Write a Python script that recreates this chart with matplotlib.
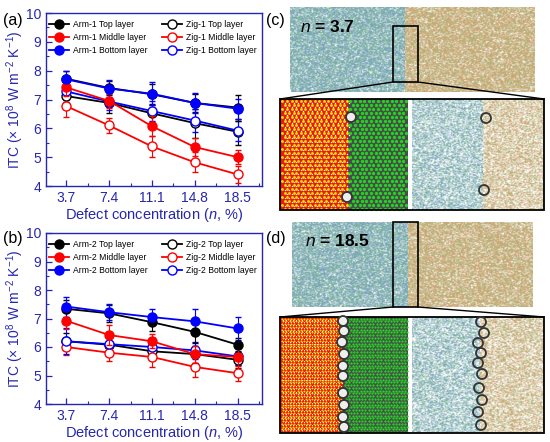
import numpy as np
import matplotlib
matplotlib.use('Agg')
import matplotlib.pyplot as plt
from matplotlib.patches import Rectangle, Circle
from matplotlib.ticker import MultipleLocator

plt.rcParams['font.family'] = ['Liberation Sans', 'DejaVu Sans']
plt.rcParams['mathtext.fontset'] = 'custom'
plt.rcParams['mathtext.rm'] = 'Liberation Sans'
plt.rcParams['mathtext.it'] = 'Liberation Sans:italic'
plt.rcParams['mathtext.bf'] = 'Liberation Sans:bold'

# ---- data: defect concentration (%) vs ITC (x1e8 W m-2 K-1)
conc = [3.7, 7.4, 11.1, 14.8, 18.5]
conc_labels = ['3.7', '7.4', '11.1', '14.8', '18.5']

# panel (a)
arm1_top = [7.72, 7.40, 7.18, 6.88, 6.72]
arm1_top_err = [0.28, 0.25, 0.35, 0.30, 0.45]
arm1_mid = [7.42, 6.95, 6.07, 5.35, 5.00]
arm1_mid_err = [0.30, 0.25, 0.35, 0.30, 0.25]
arm1_bot = [7.70, 7.38, 7.20, 6.88, 6.68]
arm1_bot_err = [0.30, 0.28, 0.40, 0.35, 0.35]
zig1_top = [7.12, 6.88, 6.52, 6.18, 5.88]
zig1_top_err = [0.20, 0.35, 0.30, 0.50, 0.45]
zig1_mid = [6.77, 6.10, 5.37, 4.82, 4.40]
zig1_mid_err = [0.37, 0.27, 0.38, 0.35, 0.30]
zig1_bot = [7.28, 6.93, 6.60, 6.27, 5.92]
zig1_bot_err = [0.30, 0.30, 0.35, 0.40, 0.35]

# panel (b)
arm2_top = [7.34, 7.18, 6.87, 6.53, 6.08]
arm2_top_err = [0.30, 0.30, 0.30, 0.40, 0.25]
arm2_mid = [6.92, 6.42, 6.20, 5.75, 5.65]
arm2_mid_err = [0.30, 0.35, 0.25, 0.30, 0.30]
arm2_bot = [7.42, 7.22, 7.05, 6.90, 6.65]
arm2_bot_err = [0.35, 0.28, 0.28, 0.42, 0.40]
zig2_top = [6.20, 6.08, 5.85, 5.75, 5.55]
zig2_top_err = [0.30, 0.28, 0.30, 0.30, 0.30]
zig2_mid = [6.00, 5.80, 5.65, 5.30, 5.08]
zig2_mid_err = [0.28, 0.28, 0.35, 0.35, 0.28]
zig2_bot = [6.20, 6.10, 6.00, 5.88, 5.67]
zig2_bot_err = [0.45, 0.30, 0.30, 0.30, 0.30]

# ---- right-hand picture layout (pixel coords of the 550x442 canvas)
c_circles_left = [(351, 117), (347, 197)]
c_circles_right = [(486, 118), (484, 190)]
d_circles_left = [(343, 321), (344, 331), (342, 342), (344, 354), (343, 366),
                  (343, 376), (343, 393), (344, 405), (343, 417), (344, 427)]
d_circles_right = [(481, 322), (484, 333), (478, 343), (481, 353), (478, 363),
                   (482, 374), (479, 388), (482, 400), (478, 412), (481, 425)]

AXBLUE = '#2626b0'
W, H = 550, 442

fig = plt.figure(figsize=(5.5, 4.42), dpi=100)

bg = fig.add_axes([0, 0, 1, 1])
bg.set_xlim(0, W)
bg.set_ylim(H, 0)
bg.axis('off')


def hnoise(h, w, k):
    j, i = np.meshgrid(np.arange(w), np.arange(h))
    v = np.sin(i * 12.9898 + j * 78.233 + k * 37.719) * 43758.5453
    return v - np.floor(v)


def texture(h, w, palette, density, k):
    n = hnoise(h, w, k)
    n = (n + np.roll(n, 1, axis=1) + np.roll(n, 2, axis=1)) / 3.0
    c = hnoise(h, w, k + 3)
    pal = np.array(palette)
    idx = np.minimum((c * len(pal)).astype(int), len(pal) - 1)
    col = pal[idx]
    a = (n < density)[..., None] * 0.9
    return np.ones((h, w, 3)) * (1 - a) + col * a


left_pal = [(0.40, 0.55, 0.85), (0.40, 0.72, 0.45), (0.50, 0.65, 0.65)]
right_pal = [(0.88, 0.55, 0.35), (0.55, 0.72, 0.40), (0.78, 0.65, 0.48)]


def noisy(x0, x1, y0, y1, pal, dens, k):
    w = int((x1 - x0) * 2)
    h = int((y1 - y0) * 2)
    bg.imshow(texture(h, w, pal, dens, k), extent=(x0, x1, y1, y0),
              aspect='auto', interpolation='bilinear', zorder=1)


def lattice(x0, x1, y0, y1, a, bgc, dotc, frac, extra=None):
    bg.add_patch(Rectangle((x0, y0), x1 - x0, y1 - y0, fc=bgc, ec='none', zorder=1))
    ys = np.arange(y0 + a / 2, y1, a * np.sqrt(3) / 2)
    px, py = [], []
    for r, yy in enumerate(ys):
        xs = np.arange(x0 + a / 2 + (a / 2) * (r % 2), x1 - a / 4, a)
        px.extend(xs)
        py.extend([yy] * len(xs))
    s = (a * frac * 0.72) ** 2
    bg.scatter(px, py, s=s, c=dotc, lw=0, zorder=2)
    if extra is not None:
        bg.scatter(np.array(px) + a / 2, np.array(py) + a * 0.29, s=s * 0.25,
                   c=extra, lw=0, zorder=2)


def picture(top, split, box, inset, lat_split, noise_split, a, circ_l, circ_r, k):
    tx0, tx1, ty0, ty1 = top
    noisy(tx0, split, ty0, ty1, left_pal, 0.64, k)
    noisy(split, tx1, ty0, ty1, right_pal, 0.64, k + 1)
    bx0, bx1, by0, by1 = box
    bg.add_patch(Rectangle((bx0, by0), bx1 - bx0, by1 - by0, fc='none', ec='black',
                           lw=1.2, zorder=4))
    ix0, ix1, iy0, iy1 = inset
    bg.plot([bx0, ix0], [by1, iy0], color='black', lw=1.0, zorder=4)
    bg.plot([bx1, ix1], [by1, iy0], color='black', lw=1.0, zorder=4)
    lattice(ix0, lat_split, iy0, iy1, a, '#e81a10', '#ffe000', 0.62, extra='#f4f4f4')
    lattice(lat_split, 408, iy0, iy1, a, '#4a4a4a', '#22d422', 0.72)
    noisy(412, noise_split, iy0, iy1, left_pal, 0.52, k + 5)
    noisy(noise_split, ix1, iy0, iy1, right_pal, 0.52, k + 6)
    bg.add_patch(Rectangle((ix0, iy0), ix1 - ix0, iy1 - iy0, fc='none', ec='black',
                           lw=1.3, zorder=4))
    for (cx, cy) in circ_l:
        bg.add_patch(Circle((cx, cy), 5.0, fc='#eeeeee', ec='#333333', lw=1.3, zorder=5))
    for (cx, cy) in circ_r:
        bg.add_patch(Circle((cx, cy), 5.0, fc='none', ec='#333333', lw=1.3, zorder=5))


picture((290, 535, 7, 92), 405, (393, 418, 26, 82), (280, 544, 99, 210),
        348, 483, 4.6, c_circles_left, c_circles_right, 1)
picture((292, 533, 222, 307), 408, (393, 418, 222, 307), (280, 544, 317, 433),
        343, 480, 3.2, d_circles_left, d_circles_right, 11)

bg.text(300, 27, r'$\mathbf{\mathit{n}}$ = 3.7', fontsize=12.5, fontweight='bold',
        va='center', zorder=6)
bg.text(305, 241, r'$\mathbf{\mathit{n}}$ = 18.5', fontsize=12.5, fontweight='bold',
        va='center', zorder=6)

bg.text(3, 20, '(a)', fontsize=11.5, va='center')
bg.text(3, 238, '(b)', fontsize=11.5, va='center')
bg.text(266, 20, '(c)', fontsize=11.5, va='center')
bg.text(266, 238, '(d)', fontsize=11.5, va='center')


def chart(rect, series):
    ax = fig.add_axes(rect)
    handles, labels = [], []
    for vals, errs, color, filled, label in series:
        cont = ax.errorbar(conc, vals, yerr=errs, color=color, marker='o', ms=6.5,
                           mfc=color if filled else 'white', mec=color, mew=1.0,
                           lw=1.3, capsize=2, elinewidth=0.8, capthick=0.8,
                           zorder=3 if filled else 2)
        handles.append(cont[0])
        labels.append(label)
    ax.set_xlim(1.95, 20.6)
    ax.set_ylim(4, 10)
    ax.set_xticks(conc)
    ax.set_xticklabels(conc_labels)
    ax.xaxis.set_minor_locator(MultipleLocator(1.85))
    ax.yaxis.set_major_locator(MultipleLocator(1))
    ax.yaxis.set_minor_locator(MultipleLocator(0.5))
    ax.tick_params(which='both', direction='in', colors=AXBLUE, labelsize=10)
    ax.tick_params(which='major', length=4, width=0.9)
    ax.tick_params(which='minor', length=2, width=0.8)
    for s in ax.spines.values():
        s.set_color(AXBLUE)
        s.set_linewidth(1.0)
    ax.set_xlabel('Defect concentration ($n$, %)', color=AXBLUE, fontsize=10.5,
                  labelpad=1)
    ax.set_ylabel('ITC (× 10$^{8}$ W m$^{-2}$ K$^{-1}$)', color=AXBLUE,
                  fontsize=10, labelpad=0)
    ax.legend(handles, labels, ncol=2, loc='upper left', bbox_to_anchor=(0.0, 0.975),
              frameon=False, fontsize=6.2,
              handlelength=2.4, handletextpad=0.45, columnspacing=1.6,
              labelspacing=0.45, borderpad=0.15, borderaxespad=0.15,
              markerscale=1.0)
    return ax


chart([46 / W, 1 - 186 / H, 216 / W, 173 / H], [
    (arm1_top, arm1_top_err, 'black', True, 'Arm-1 Top layer'),
    (arm1_mid, arm1_mid_err, 'red', True, 'Arm-1 Middle layer'),
    (arm1_bot, arm1_bot_err, 'blue', True, 'Arm-1 Bottom layer'),
    (zig1_top, zig1_top_err, 'black', False, 'Zig-1 Top layer'),
    (zig1_mid, zig1_mid_err, 'red', False, 'Zig-1 Middle layer'),
    (zig1_bot, zig1_bot_err, 'blue', False, 'Zig-1 Bottom layer'),
])

chart([46 / W, 1 - 404 / H, 216 / W, 171 / H], [
    (arm2_top, arm2_top_err, 'black', True, 'Arm-2 Top layer'),
    (arm2_mid, arm2_mid_err, 'red', True, 'Arm-2 Middle layer'),
    (arm2_bot, arm2_bot_err, 'blue', True, 'Arm-2 Bottom layer'),
    (zig2_top, zig2_top_err, 'black', False, 'Zig-2 Top layer'),
    (zig2_mid, zig2_mid_err, 'red', False, 'Zig-2 Middle layer'),
    (zig2_bot, zig2_bot_err, 'blue', False, 'Zig-2 Bottom layer'),
])

fig.savefig('out.png', dpi=100)
